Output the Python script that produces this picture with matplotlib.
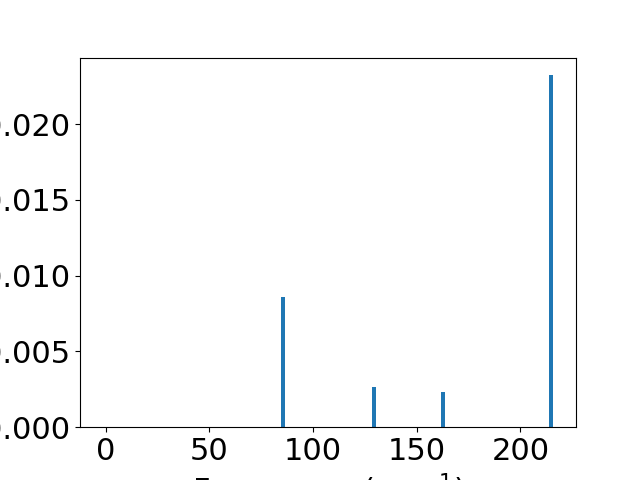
import matplotlib
matplotlib.use('Agg')
import matplotlib.pyplot as plt

# 数据
freqs = [85.7, 129.4, 162.7, 214.7]
intensities = [0.0086, 0.00264, 0.00231, 0.02323]

plt.rcParams['font.size'] = 22

fig, ax = plt.subplots(figsize=(6.4, 4.8), dpi=100)
ax.bar(freqs, intensities, width=2, color='tab:blue')
ax.set_xlim(-12.3, 226.8)
ax.set_xlabel('Frequency (cm$^{-1}$)')
ax.set_ylabel('Intensity')

plt.savefig('out.png')
